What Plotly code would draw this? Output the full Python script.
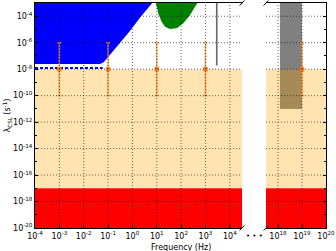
import math
import plotly.graph_objects as go

# ---------------- data ----------------
f_left = [1e-4, 10**4.5]          # left panel frequency extent (Hz)
f_right = [10**17.5, 1e20]        # right panel frequency extent (Hz)
lam_extent = [1e-20, 1e-3]        # lambda extent (s^-1)

red_lambda = [1e-20, 1e-17]       # lower excluded band
tan_lambda = [1e-17, 1e-8]        # theoretical band

blue_freq = [1e-4, 0.047, 0.068, 0.12, 0.31, 0.79, 2.0, 5.2, 11.0, 1e-4]
blue_lambda = [2.5e-8, 2.5e-8, 3.5e-8, 1.2e-7, 9.5e-7, 7.8e-6, 7.4e-5, 5.9e-4, 3.2e-3, 3.2e-3]

blue_dash_freq = [1e-4, 0.06]
blue_dash_lambda = [1.25e-8, 1.25e-8]

green_freq = [8.5, 11.5, 15.8, 21.9, 34.7, 66.1, 123, 234, 372, 600]
green_lambda = [2e-3, 1.66e-4, 3.9e-5, 1.62e-5, 1.1e-5, 1.23e-5, 2.95e-5, 1.23e-4, 5.25e-4, 2e-3]

gray_line_freq = [2.9e3, 2.9e3]
gray_line_lambda = [1.9e-8, 2e-3]

gray_box_freq = [1.2e18, 1e19]
gray_box_lambda = [1e-11, 2e-3]

pts_left_freq = [1e-3, 1e-1, 1e1, 1e3]
pts_left_lambda = [1e-8, 1e-8, 1e-8, 1e-8]
pts_left_hi = [1e-6, 1e-6, 1e-6, 1e-6]
pts_left_lo = [1e-10, 1e-10, 1e-10, 1e-10]

pts_right_freq = [1e19]
pts_right_lambda = [1e-8]
pts_right_hi = [1e-6]
pts_right_lo = [1e-10]

x_left_ticks = [1e-4, 1e-3, 1e-2, 1e-1, 1e0, 1e1, 1e2, 1e3, 1e4]
x_left_labels = ["10<sup>-4</sup>", "10<sup>-3</sup>", "10<sup>-2</sup>", "10<sup>-1</sup>",
                 "10<sup>0</sup>", "10<sup>1</sup>", "10<sup>2</sup>", "10<sup>3</sup>", "10<sup>4</sup>"]
x_right_ticks = [1e18, 1e19, 1e20]
x_right_labels = ["10<sup>18</sup>", "10<sup>19</sup>", "10<sup>20</sup>"]
y_ticks = [1e-20, 1e-18, 1e-16, 1e-14, 1e-12, 1e-10, 1e-8, 1e-6, 1e-4]
y_labels = ["10<sup>-20</sup>", "10<sup>-18</sup>", "10<sup>-16</sup>", "10<sup>-14</sup>",
            "10<sup>-12</sup>", "10<sup>-10</sup>", "10<sup>-8</sup>", "10<sup>-6</sup>", "10<sup>-4</sup>"]
y_minor = [1e-19, 1e-17, 1e-15, 1e-13, 1e-11, 1e-9, 1e-7, 1e-5, 1e-3]

# ---------------- figure ----------------
FONT = "DejaVu Sans"
fig = go.Figure()


def band(xr, yr, xa, ya, color):
    fig.add_trace(go.Scatter(x=[xr[0], xr[1], xr[1], xr[0], xr[0]],
                             y=[yr[0], yr[0], yr[1], yr[1], yr[0]],
                             xaxis=xa, yaxis=ya, mode="lines", fill="toself",
                             fillcolor=color, line=dict(width=0), hoverinfo="skip",
                             showlegend=False))


band(f_left, red_lambda, "x", "y", "#ff0000")
band(f_right, red_lambda, "x2", "y2", "#ff0000")
band(gray_box_freq, gray_box_lambda, "x2", "y2", "#808080")
band(f_left, tan_lambda, "x", "y", "rgba(255,165,0,0.3)")
band(f_right, tan_lambda, "x2", "y2", "rgba(255,165,0,0.3)")

fig.add_trace(go.Scatter(x=blue_freq, y=blue_lambda, mode="lines", fill="toself",
                         fillcolor="#0000ff", line=dict(width=0), showlegend=False,
                         xaxis="x", yaxis="y"))
fig.add_trace(go.Scatter(x=blue_dash_freq, y=blue_dash_lambda, mode="lines",
                         line=dict(color="#0000ff", width=2, dash="3px,2px"),
                         showlegend=False, xaxis="x", yaxis="y"))
fig.add_trace(go.Scatter(x=green_freq, y=green_lambda, mode="lines", fill="toself",
                         fillcolor="#008000", line=dict(width=0), showlegend=False,
                         xaxis="x", yaxis="y"))
fig.add_trace(go.Scatter(x=gray_line_freq, y=gray_line_lambda, mode="lines",
                         line=dict(color="#666666", width=1.6), showlegend=False,
                         xaxis="x", yaxis="y"))


def points(fx, fy, hi, lo, xa, ya):
    fig.add_trace(go.Scatter(
        x=fx, y=fy, mode="markers", xaxis=xa, yaxis=ya, showlegend=False,
        marker=dict(symbol="square", size=4.5, color="rgba(255,120,10,0.9)", line=dict(width=0)),
        error_y=dict(type="data", symmetric=False,
                     array=[h - v for h, v in zip(hi, fy)],
                     arrayminus=[v - l for v, l in zip(fy, lo)],
                     color="rgba(255,140,40,0.8)", thickness=1.5, width=2)))


points(pts_left_freq, pts_left_lambda, pts_left_hi, pts_left_lo, "x", "y")
points(pts_right_freq, pts_right_lambda, pts_right_hi, pts_right_lo, "x2", "y2")

# ---------------- layout ----------------
L, R, T, B = 35, 10, 3, 23
W, H = 336, 251
pw = W - L - R
ph = H - T - B
left_dom = [0, 207 / pw]
right_dom = [231 / pw, 1]

axis_common = dict(type="log", showgrid=False, zeroline=False, showline=True, automargin=False,
                   linecolor="black", linewidth=1, ticks="inside", ticklen=3,
                   tickcolor="black", tickfont=dict(family=FONT, size=8, color="black"))

fig.update_layout(
    width=W, height=H, margin=dict(l=L, r=R, t=T, b=B, autoexpand=False),
    paper_bgcolor="white", plot_bgcolor="white",
    font=dict(family=FONT, size=8, color="black"),
    xaxis=dict(**axis_common, domain=left_dom, anchor="y", mirror=True,
               range=[math.log10(f_left[0]), math.log10(f_left[1])],
               tickmode="array", tickvals=x_left_ticks, ticktext=x_left_labels),
    xaxis2=dict(**axis_common, domain=right_dom, anchor="y2", mirror=True,
                range=[math.log10(f_right[0]), math.log10(f_right[1])],
                tickmode="array", tickvals=x_right_ticks, ticktext=x_right_labels),
    yaxis=dict(**axis_common, anchor="x", domain=[0, 1],
               range=[math.log10(lam_extent[0]), math.log10(lam_extent[1])],
               tickmode="array", tickvals=y_ticks, ticktext=y_labels,
               minor=dict(tickmode="array", tickvals=y_minor, ticks="inside", ticklen=2,
                          tickcolor="black")),
    yaxis2=dict(**axis_common, anchor="x2", domain=[0, 1], side="right", matches="y",
                range=[math.log10(lam_extent[0]), math.log10(lam_extent[1])],
                tickmode="array", tickvals=y_ticks, showticklabels=False,
                minor=dict(tickmode="array", tickvals=y_minor, ticks="inside", ticklen=2,
                           tickcolor="black")),
)

shapes = []
grid_line = dict(color="rgba(0,0,0,0.6)", width=1, dash="1px,2px")
for v in x_left_ticks[1:]:
    shapes.append(dict(type="line", xref="x", yref="y domain", x0=v, x1=v,
                       y0=0, y1=1, line=grid_line, layer="above"))
for v in x_right_ticks[:-1]:
    shapes.append(dict(type="line", xref="x2", yref="y2 domain", x0=v, x1=v,
                       y0=0, y1=1, line=grid_line, layer="above"))
for v in y_ticks[1:]:
    shapes.append(dict(type="line", xref="x domain", yref="y", x0=0, x1=1,
                       y0=v, y1=v, line=grid_line, layer="above"))
    shapes.append(dict(type="line", xref="x2 domain", yref="y2", x0=0, x1=1,
                       y0=v, y1=v, line=grid_line, layer="above"))

dx, dy = 2.3 / pw, 2.5 / ph
for xe in [left_dom[1], right_dom[0]]:
    for ye in [0, 1]:
        shapes.append(dict(type="line", xref="paper", yref="paper",
                           x0=xe - dx, x1=xe + dx, y0=ye - dy, y1=ye + dy,
                           line=dict(color="black", width=1), layer="above"))
fig.update_layout(shapes=shapes)

fig.add_annotation(text="• • •", xref="paper", yref="paper",
                   x=(left_dom[1] + right_dom[0]) / 2, y=-8 / ph,
                   showarrow=False, xanchor="center", yanchor="middle",
                   font=dict(family=FONT, size=7, color="black"))
fig.add_annotation(text="Frequency (Hz)", xref="paper", yref="paper",
                   x=0.5, y=-(247 - 228) / ph, showarrow=False,
                   xanchor="center", yanchor="middle",
                   font=dict(family=FONT, size=8, color="black"))
fig.add_annotation(text="λ<sub>CSL</sub> (s<sup>-1</sup>)", xref="paper", yref="paper",
                   x=-(35 - 7) / pw, y=0.5, textangle=-90, showarrow=False,
                   xanchor="center", yanchor="middle",
                   font=dict(family=FONT, size=8, color="black"))

fig.write_html("out.html", config={"displayModeBar": False},
               post_script="document.body.style.margin='0';")
